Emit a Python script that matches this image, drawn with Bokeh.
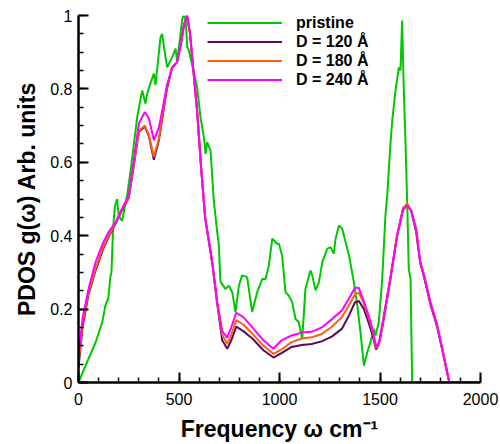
from bokeh.plotting import figure
from bokeh.models import Range1d, FixedTicker, CustomJSTickFormatter
from bokeh.embed import file_html
from bokeh.resources import INLINE

# ---------------- data ----------------
pristine_x = [0, 35, 85, 118, 134, 143, 148, 159, 164, 172, 181, 192, 200, 217, 234, 242, 260,
              292, 317, 333, 342, 358, 375, 383, 408, 416, 433, 441, 466, 483, 491, 516, 524,
              533, 541, 549, 590, 607, 624, 632, 640, 657, 673, 690, 698, 706, 731, 748, 765,
              781, 798, 814, 839, 864, 889, 914, 931, 947, 964, 988, 997, 1013, 1030, 1046,
              1063, 1080, 1096, 1113, 1129, 1138, 1154, 1163, 1179, 1196, 1213, 1237, 1254,
              1270, 1279, 1296, 1312, 1329, 1346, 1370, 1387, 1403, 1420, 1437, 1453, 1469,
              1478, 1494, 1511, 1527, 1536, 1552, 1561, 1577, 1594, 1602, 1610, 1618, 1627,
              1635, 1643, 1652, 1660, 2000]
pristine_y = [0.0, 0.046, 0.109, 0.164, 0.21, 0.223, 0.228, 0.29, 0.30, 0.42, 0.48, 0.50, 0.455,
              0.44, 0.49, 0.51, 0.58, 0.723, 0.796, 0.76, 0.787, 0.815, 0.842, 0.81, 0.941, 0.95,
              0.886, 0.859, 0.886, 0.91, 0.873, 0.99, 1.0, 0.99, 0.914, 0.905, 0.805, 0.723,
              0.668, 0.623, 0.655, 0.632, 0.496, 0.41, 0.378, 0.275, 0.255, 0.264, 0.246, 0.192,
              0.264, 0.292, 0.287, 0.192, 0.246, 0.282, 0.282, 0.319, 0.392, 0.378, 0.378, 0.346,
              0.246, 0.237, 0.219, 0.173, 0.164, 0.119, 0.255, 0.273, 0.305, 0.292, 0.251, 0.273,
              0.328, 0.364, 0.369, 0.351, 0.392, 0.428, 0.419, 0.382, 0.346, 0.273, 0.21, 0.137,
              0.046, 0.083, 0.11, 0.146, 0.128, 0.164, 0.282, 0.455, 0.51, 0.65, 0.714, 0.796,
              0.859, 0.85, 0.986, 0.805, 0.65, 0.496, 0.31, 0.282, 0.0, 0.0]

d_x = [0, 20, 50, 85, 120, 150, 185, 215, 250, 275, 300, 330, 350, 375, 400, 420, 440, 465,
       490, 510, 525, 540, 555, 575, 590, 610, 630, 665, 690, 715, 740, 760, 785, 820, 865,
       920, 970, 1010, 1060, 1110, 1160, 1210, 1260, 1310, 1345, 1375, 1395, 1420, 1445, 1465,
       1480, 1495, 1515, 1550, 1585, 1615, 1635, 1655, 1680, 1700, 1720, 1750, 1785, 1810,
       1845, 1900, 2000]

d120_y = [0.04, 0.15, 0.24, 0.305, 0.36, 0.397, 0.433, 0.468, 0.503, 0.59, 0.683, 0.697, 0.672,
          0.607, 0.66, 0.73, 0.80, 0.857, 0.873, 0.925, 0.975, 1.0, 0.95, 0.83, 0.74, 0.585,
          0.45, 0.328, 0.215, 0.115, 0.092, 0.115, 0.152, 0.14, 0.12, 0.088, 0.068, 0.08, 0.097,
          0.102, 0.105, 0.112, 0.125, 0.146, 0.182, 0.218, 0.222, 0.2, 0.16, 0.125, 0.09, 0.105,
          0.16, 0.275, 0.40, 0.475, 0.485, 0.468, 0.41, 0.325, 0.285, 0.215, 0.15, 0.088, 0.0,
          0.0, 0.0]

d180_y = [0.05, 0.16, 0.245, 0.31, 0.365, 0.40, 0.435, 0.47, 0.505, 0.595, 0.685, 0.70, 0.675,
          0.615, 0.665, 0.735, 0.805, 0.857, 0.873, 0.925, 0.975, 1.0, 0.95, 0.83, 0.74, 0.585,
          0.45, 0.328, 0.218, 0.13, 0.105, 0.13, 0.17, 0.158, 0.133, 0.1, 0.078, 0.09, 0.11,
          0.12, 0.123, 0.132, 0.152, 0.178, 0.21, 0.24, 0.245, 0.215, 0.175, 0.135, 0.094, 0.105,
          0.165, 0.28, 0.40, 0.475, 0.487, 0.47, 0.42, 0.33, 0.29, 0.22, 0.155, 0.09, 0.0, 0.0,
          0.0]

d240_y = [0.07, 0.175, 0.255, 0.328, 0.378, 0.41, 0.437, 0.472, 0.51, 0.605, 0.705, 0.737, 0.72,
          0.66, 0.695, 0.75, 0.81, 0.857, 0.873, 0.925, 0.975, 1.0, 0.95, 0.83, 0.74, 0.585,
          0.45, 0.328, 0.22, 0.14, 0.122, 0.15, 0.19, 0.178, 0.15, 0.115, 0.092, 0.115, 0.128,
          0.136, 0.138, 0.15, 0.172, 0.196, 0.228, 0.258, 0.258, 0.22, 0.18, 0.14, 0.097, 0.11,
          0.17, 0.28, 0.40, 0.47, 0.482, 0.468, 0.415, 0.33, 0.29, 0.22, 0.155, 0.092, 0.0, 0.0,
          0.0]

x_major = [0, 500, 1000, 1500, 2000]
x_minor = list(range(0, 2001, 100))
y_major = [0, 0.2, 0.4, 0.6, 0.8, 1]
y_minor = [i * 0.05 for i in range(21)]

# ---------------- figure ----------------
FONT = "Liberation Sans"
p = figure(width=500, height=444, output_backend="svg", toolbar_location=None,
           x_range=Range1d(0, 2000), y_range=Range1d(0, 1),
           min_border_left=78, min_border_right=20, min_border_top=15, min_border_bottom=62)
p.outline_line_color = None
p.grid.visible = False
p.background_fill_color = "white"

p.line(pristine_x, pristine_y, color="#00c800", line_width=2, legend_label="pristine")
p.line(d_x, d120_y, color="#5a0a5a", line_width=2, legend_label="D = 120 Å")
p.line(d_x, d180_y, color="#ff6010", line_width=2, legend_label="D = 180 Å")
p.line(d_x, d240_y, color="#ff00ff", line_width=2, legend_label="D = 240 Å")

for ax in (p.xaxis[0], p.yaxis[0]):
    ax.axis_line_width = 2.5
    ax.axis_line_color = "black"
    ax.major_tick_line_width = 2
    ax.minor_tick_line_width = 1.5
    ax.major_tick_line_color = "black"
    ax.minor_tick_line_color = "black"
    ax.major_tick_in = 10
    ax.major_tick_out = 0
    ax.minor_tick_in = 5
    ax.minor_tick_out = 0
    ax.major_label_text_font = FONT
    ax.major_label_text_font_size = "16px"
    ax.major_label_text_color = "black"
    ax.axis_label_text_font = FONT
    ax.axis_label_text_font_size = "23px"
    ax.axis_label_text_font_style = "bold"
    ax.axis_label_text_color = "black"

p.xaxis.ticker = FixedTicker(ticks=x_major, minor_ticks=x_minor)
p.yaxis.ticker = FixedTicker(ticks=y_major, minor_ticks=y_minor)
p.yaxis.formatter = CustomJSTickFormatter(code="return String(Math.round(tick*10)/10)")
p.xaxis.major_label_standoff = 10
p.yaxis.major_label_standoff = 6
p.xaxis.axis_label = "Frequency ω cm⁻¹"
p.yaxis.axis_label = "PDOS g(ω) Arb. units"
p.xaxis.axis_label_standoff = 8
p.yaxis.axis_label_standoff = 7

lg = p.legend[0]
lg.location = (129, 293)
lg.background_fill_alpha = 0
lg.border_line_color = None
lg.padding = 0
lg.margin = 0
lg.spacing = 0
lg.glyph_width = 75
lg.glyph_height = 19
lg.label_height = 19
lg.label_standoff = 14
lg.label_text_font = FONT
lg.label_text_font_size = "16px"
lg.label_text_font_style = "bold"
lg.label_text_color = "black"

open("out.html", "w").write(file_html(p, INLINE))
